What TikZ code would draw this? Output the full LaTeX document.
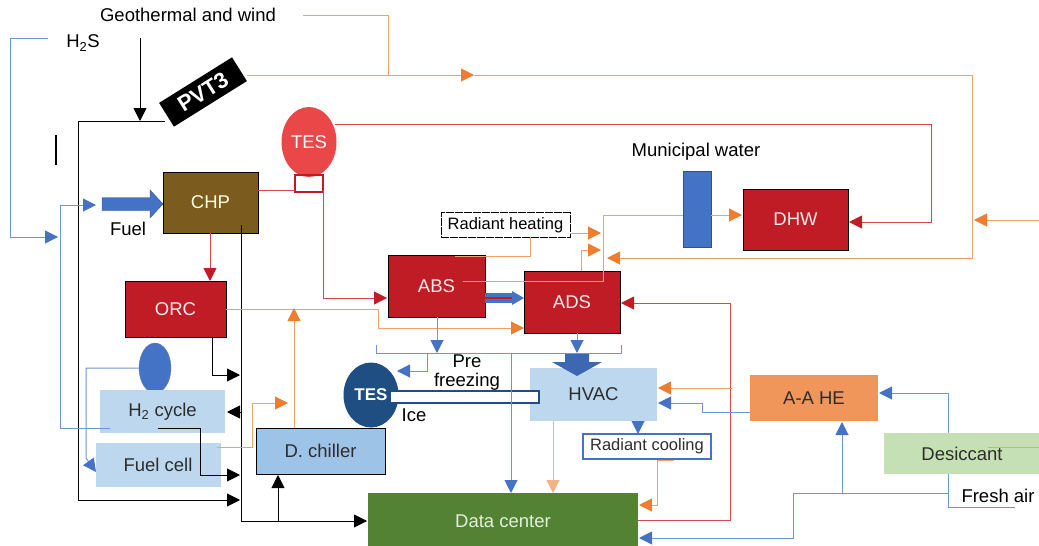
\documentclass[tikz,border=0pt]{standalone}
\usepackage{fontspec}
\setmainfont{Liberation Sans}
\usetikzlibrary{arrows.meta,shapes.geometric}

\definecolor{chpbrown}{RGB}{123,92,30}
\definecolor{boxred}{RGB}{192,28,38}
\definecolor{tesred}{RGB}{234,72,72}
\definecolor{linered}{RGB}{214,70,80}
\definecolor{lineorange}{RGB}{241,160,105}
\definecolor{tiporange}{RGB}{237,125,49}
\definecolor{lineblue}{RGB}{110,150,215}
\definecolor{tipblue}{RGB}{68,114,196}
\definecolor{paleblue}{RGB}{189,215,238}
\definecolor{chillblue}{RGB}{157,195,230}
\definecolor{icenavy}{RGB}{30,78,130}
\definecolor{dcgreen}{RGB}{84,130,53}
\definecolor{dctext}{RGB}{226,240,217}
\definecolor{desgreen}{RGB}{197,224,180}
\definecolor{heorange}{RGB}{241,150,90}
\definecolor{muniblue}{RGB}{68,114,196}
\definecolor{salmon}{RGB}{244,177,131}
\definecolor{darktext}{RGB}{45,45,45}

\begin{document}
\begin{tikzpicture}[x=1pt, y=-1pt, font=\fontsize{18.5}{21}\selectfont,
	redbox/.style={draw=black, line width=1pt, fill=boxred, text=white!92!red},
	palebox/.style={fill=paleblue, text=darktext},
	bk/.style={black, line width=0.9pt},
	rd/.style={linered, line width=1pt},
	og/.style={lineorange, line width=1pt},
	bl/.style={lineblue, line width=1pt},
	karr/.style={-{Triangle[length=13pt,width=13pt]}},
	rarr/.style={-{Triangle[length=13pt,width=13pt,color=boxred]}},
	oarr/.style={-{Triangle[length=13pt,width=13pt,color=tiporange]}},
	barr/.style={-{Triangle[length=13pt,width=13pt,color=tipblue]}}]
	
	\useasboundingbox (0,0) rectangle (1039,546);
	
	% Sources and labels
	\node (geo) at (188,15) {Geothermal and wind};
	\node (hs) at (83,43) {H\textsubscript{2}S};
	\node (fuel) at (128,229) {Fuel};
	\node (muniText) at (696,152) {Municipal water};
	\node (ice) at (414,415) {Ice};
	\node[align=center, font=\fontsize{18.5}{19}\selectfont] (pre) at (467,373) {Pre\\freezing};
	\node (fresh) at (998,496) {Fresh air};
	
	% PVT panel
	\node[fill=black, text=white, minimum width=86pt, minimum height=28pt, inner sep=0pt,
	rotate=32, font=\fontsize{22}{22}\selectfont\bfseries] (pvt) at (203,92) {PVT3};
	
	% Storage
	\node[ellipse, fill=tesred, text=white, minimum width=55pt, minimum height=70pt, inner sep=0pt] (tesHot) at (309,142) {TES};
	\draw[boxred, line width=1.5pt] (295,175) rectangle (323,192);
	\node[ellipse, fill=icenavy, text=white, minimum width=55pt, minimum height=65pt, inner sep=0pt,
	font=\fontsize{17}{17}\selectfont\bfseries] (tesIce) at (371,395) {TES};
	\node[ellipse, fill=tipblue, draw=icenavy!70, minimum width=32pt, minimum height=50pt, inner sep=0pt] (h2tank) at (155,368) {};
	
	% Boxes
	\node[fill=chpbrown, draw=black, line width=1pt, text=white!88!yellow, minimum width=95pt, minimum height=61pt] (chp) at (210.5,202.5) {CHP};
	\node[redbox, minimum width=101pt, minimum height=56pt] (orc) at (175.5,309) {ORC};
	\node[redbox, minimum width=97pt, minimum height=62pt] (abs) at (436.5,286) {ABS};
	\node[redbox, minimum width=96pt, minimum height=62pt] (ads) at (572,302) {ADS};
	\node[redbox, minimum width=105pt, minimum height=61pt] (dhw) at (795.5,219.5) {DHW};
	\node[fill=muniblue, draw=muniblue!70!black, minimum width=28pt, minimum height=76pt] (muni) at (697,209.5) {};
	\node[palebox, minimum width=125pt, minimum height=43pt] (h2c) at (162.5,411.5) {H\textsubscript{2} cycle};
	\node[palebox, minimum width=125pt, minimum height=44pt] (fc) at (158,465) {Fuel cell};
	\node[fill=chillblue, draw=black, line width=1pt, text=darktext, minimum width=129pt, minimum height=46pt] (dch) at (320.5,451) {D. chiller};
	\node[palebox, minimum width=127pt, minimum height=53pt] (hvac) at (593.5,394.5) {HVAC};
	\node[fill=white, draw=black, line width=1pt, dash pattern=on 8pt off 1pt, minimum width=129pt, minimum height=25pt, inner sep=0pt,
	font=\fontsize{16.5}{18}\selectfont] (rheat) at (505.5,225) {Radiant heating};
	\node[fill=white, draw=tipblue, line width=1.3pt, minimum width=128pt, minimum height=25pt, inner sep=0pt, text=darktext,
	font=\fontsize{16.5}{18}\selectfont] (rcool) at (647,446.5) {Radiant cooling};
	\node[fill=heorange, text=darktext, minimum width=128pt, minimum height=46pt] (aahe) at (814,398) {A-A HE};
	\node[fill=desgreen, text=darktext, minimum width=156pt, minimum height=41pt] (desic) at (962,453.5) {Desiccant};
	\node[fill=dcgreen, text=dctext, minimum width=270pt, minimum height=56pt] (dc) at (503,521) {Data center};
	
	% Ice tube
	\draw[icenavy, line width=1.6pt, fill=white] (390,391) rectangle (539,403);
	
	% Black (power) lines
	\draw[bk, karr] (140,38) -- (140,121);
	\draw[bk, karr] (165,121) -- (78,121) -- (78,500) -- (240,500);
	\draw[black, line width=2pt] (56,135) -- (56,165);
	\draw[bk, karr] (241,225) -- (241,521) -- (367,521);
	\draw[bk, karr] (278,521) -- (278,475);
	\draw[bk, karr] (212,337) -- (212,375) -- (240,375);
	\draw[bk, karr] (241,412) -- (227,412);
	\draw[bk, karr] (158,428) -- (200,428) -- (200,475) -- (240,475);
	
	% Red (heat) lines
	\draw[rd] (258,190) -- (295,190);
	\draw[rd, rarr] (323,190) -- (323,298) -- (387,298);
	\draw[rd, rarr] (335,124) -- (931,124) -- (931,222) -- (849,222);
	\draw[rd, rarr] (210,233) -- (210,281);
	\draw[rd, rarr] (638,520) -- (730,520) -- (730,303) -- (621,303);
	
	% Orange lines
	\draw[og] (303,15) -- (388,15) -- (388,75);
	\draw[og, oarr] (247,75) -- (474,75);
	\draw[og, oarr] (474,75) -- (972,75) -- (972,258) -- (607,258);
	\draw[og, oarr] (1039,220) -- (974,220);
	\draw[og, oarr] (226,309) -- (378,309) -- (378,328) -- (524,328);
	\draw[og, oarr] (294,428) -- (294,308);
	\draw[og, oarr] (217,447) -- (252,447) -- (252,403) -- (288,403);
	\draw[og] (530,237) -- (530,256) -- (455,256);
	\draw[og] (463,281) -- (603,281) -- (603,215) -- (683,215);
	\draw[og, oarr] (711,215) -- (742,215);
	\draw[og, oarr] (570,233) -- (601,233);
	\draw[og, oarr] (581,271) -- (581,250) -- (601,250);
	\draw[og, oarr] (732,388) -- (658,388);
	\draw[salmon, line width=1pt, -{Triangle[length=13pt,width=13pt]}] (553,421) -- (553,493);
	\draw[og, oarr] (674,460) -- (657,460) -- (657,505) -- (639,505);
	\draw[og] (988,447) -- (1039,447);
	
	% Blue lines
	\draw[bl, barr] (48,38) -- (10,38) -- (10,237) -- (58,237);
	\draw[bl, barr] (110,428) -- (60,428) -- (60,205) -- (96,205);
	\draw[bl, barr] (139,368) -- (86,368) -- (86,458) -- (96,472);
	\draw[bl] (376,345) -- (376,353) -- (621,353) -- (621,345);
	\draw[bl, barr] (437,317) -- (437,353);
	\draw[bl, barr] (577,333) -- (577,353);
	\draw[bl, barr] (427,353) -- (427,371) -- (397,371);
	\draw[bl, barr] (511,353) -- (511,493);
	\draw[bl, barr] (638,421) -- (638,434);
	\draw[bl, barr] (750,412) -- (702,412) -- (702,403) -- (658,403);
	\draw[bl, barr] (948,433) -- (948,393) -- (879,393);
	\draw[bl] (948,474) -- (948,507) -- (1015,507);
	\draw[bl, barr] (948,493) -- (793,493) -- (793,538) -- (639,538);
	\draw[bl, barr] (842,493) -- (842,422);
	
	% Block arrows
	\fill[tipblue, draw=tipblue!70!black] (102,197.5) -- (150,197.5) -- (150,190) -- (163,204)
	-- (150,218) -- (150,210.5) -- (102,210.5) -- cycle;
	\fill[tipblue!90!black] (565,354) -- (589,354) -- (589,362) -- (602,362) -- (577,376)
	-- (552,362) -- (565,362) -- cycle;
	\draw[tipblue, line width=4pt, double=boxred, double distance=1.2pt] (485,298) -- (512,298);
	\fill[tipblue] (512,291) -- (524,298) -- (512,305) -- cycle;
	
\end{tikzpicture}
\end{document}
